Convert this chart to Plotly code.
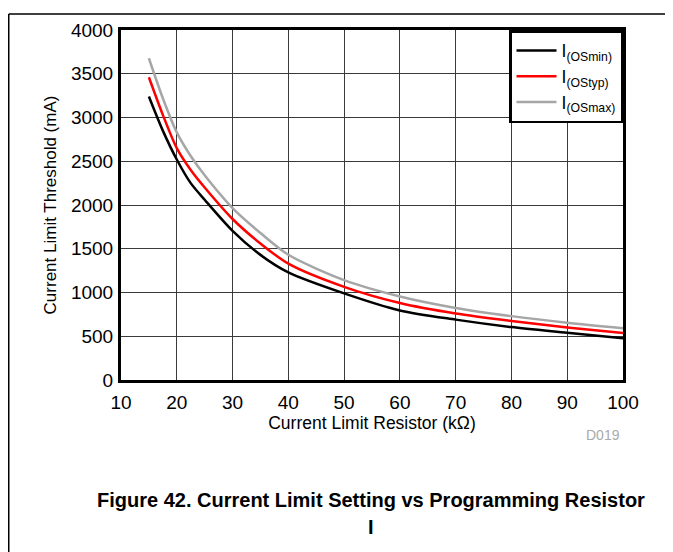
import plotly.graph_objects as go

# ---------------------------------------------------------
# Data (current limit vs resistor)
# ---------------------------------------------------------
resistor_kohm = [15, 17.5, 20, 22.5, 25, 30, 35, 40, 50, 60, 70, 80, 90, 100]

i_os_min = [3240, 2850, 2520, 2250, 2060, 1705, 1430, 1230, 990, 795, 690, 605, 540, 476]
i_os_typ = [3460, 3030, 2650, 2400, 2200, 1840, 1560, 1330, 1065, 880, 760, 674, 600, 536]
i_os_max = [3677, 3220, 2830, 2560, 2340, 1965, 1680, 1431, 1142, 955, 824, 730, 655, 592]

series_names = ["I<sub>(OSmin)</sub>", "I<sub>(OStyp)</sub>", "I<sub>(OSmax)</sub>"]
series_colors = ["#000000", "#ff0000", "#a6a6a6"]

x_ticks = [10, 20, 30, 40, 50, 60, 70, 80, 90, 100]
y_ticks = [0, 500, 1000, 1500, 2000, 2500, 3000, 3500, 4000]

FONT = "Liberation Sans, Arial, sans-serif"

# the page puts the figure 8px in from the top-left corner
OFF = 8
W, H = 673, 552
ML, MT = 121 - OFF, 25 - OFF
PW, PH = 502, 355
MR, MB = W - ML - PW, H - MT - PH


def px_to_paper(x, y):
    """screen pixel position -> paper coordinates"""
    return (x - OFF - ML) / PW, (MT + PH - (y - OFF)) / PH


fig = go.Figure()

for name, ys, color in zip(series_names, [i_os_min, i_os_typ, i_os_max], series_colors):
    fig.add_trace(go.Scatter(
        x=resistor_kohm,
        y=ys,
        name=name,
        mode="lines",
        line=dict(color=color, width=2.5, shape="spline", smoothing=0.8),
    ))

fig.update_xaxes(
    range=[10, 100],
    tickvals=x_ticks,
    showgrid=True,
    gridcolor="#3a3a3a",
    gridwidth=1,
    showline=True,
    mirror=True,
    linecolor="black",
    linewidth=3,
    zeroline=False,
    ticks="",
    ticklabelstandoff=3,
    tickfont=dict(size=19, color="black"),
    title=dict(text="Current Limit Resistor (kΩ)", font=dict(size=17.5, color="black"), standoff=2),
)

fig.update_yaxes(
    range=[0, 4000],
    tickvals=y_ticks,
    showgrid=True,
    gridcolor="#3a3a3a",
    gridwidth=1,
    showline=True,
    mirror=True,
    linecolor="black",
    linewidth=3,
    zeroline=False,
    ticks="",
    ticklabelstandoff=1,
    tickfont=dict(size=19, color="black"),
    title=dict(text="Current Limit Threshold (mA)", font=dict(size=17, color="black"), standoff=10),
)

# page border (top and left edges only visible)
bx0, by0 = px_to_paper(OFF + 0.75, OFF + 0.75)
bx1, _ = px_to_paper(W + OFF, OFF)
_, by1 = px_to_paper(OFF, H + OFF)
fig.add_shape(type="line", xref="paper", yref="paper", x0=bx0, y0=by0, x1=bx1, y1=by0,
              line=dict(color="black", width=1.5))
fig.add_shape(type="line", xref="paper", yref="paper", x0=bx0, y0=by0, x1=bx0, y1=by1,
              line=dict(color="black", width=1.5))

dx, dy = px_to_paper(622, 436)
fig.add_annotation(text="D019", xref="paper", yref="paper", x=dx, y=dy,
                   xanchor="right", yanchor="middle", showarrow=False,
                   font=dict(size=14, color="#aaaaaa", family=FONT))

tx, ty = px_to_paper(371, 502)
fig.add_annotation(text="<b>Figure 42. Current Limit Setting vs Programming Resistor</b>",
                   xref="paper", yref="paper", x=tx, y=ty, xanchor="center", yanchor="middle",
                   showarrow=False, font=dict(size=20, color="black", family=FONT))
tx2, ty2 = px_to_paper(371, 529)
fig.add_annotation(text="<b>I</b>", xref="paper", yref="paper", x=tx2, y=ty2,
                   xanchor="center", yanchor="middle", showarrow=False,
                   font=dict(size=20, color="black", family=FONT))

fig.update_layout(
    width=W,
    height=H,
    margin=dict(l=ML, r=MR, t=MT, b=MB),
    paper_bgcolor="white",
    plot_bgcolor="white",
    font=dict(family=FONT, color="black"),
    showlegend=True,
    legend=dict(
        x=1, y=1, xanchor="right", yanchor="top",
        bgcolor="white",
        bordercolor="black",
        borderwidth=2.5,
        font=dict(size=17.5, color="black"),
        tracegroupgap=0,
        itemwidth=40,
    ),
)

fig.write_html("out.html")
